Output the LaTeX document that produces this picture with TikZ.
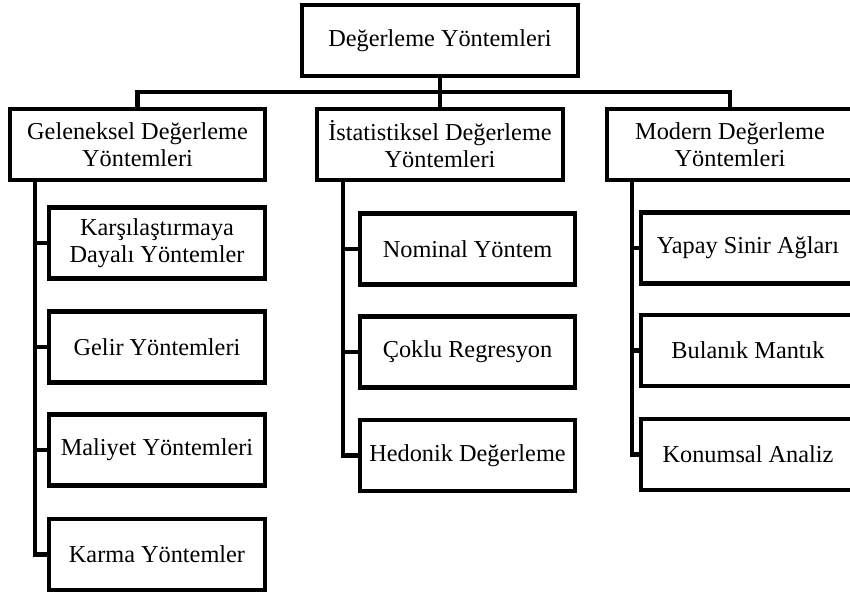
\documentclass[tikz,border=0pt]{standalone}
\usepackage{fontspec}
\setmainfont{Liberation Serif}
\begin{document}
\begin{tikzpicture}[x=1pt,y=1pt,
  box/.style={draw=black,line width=4.5pt,fill=white,align=center,inner sep=0pt,
    font=\fontsize{24.3}{27}\selectfont},
  conn/.style={line width=4.5pt,line join=miter}]
\useasboundingbox (0,0) rectangle (850,-593);
% top
\node[box,minimum width=276pt,minimum height=71pt] (top) at (440,-40.5) {Değerleme Yöntemleri};
% level 2
\node[box,minimum width=255pt,minimum height=71pt] (gel) at (137.5,-144.5) {Geleneksel Değerleme\\Yöntemleri};
\node[box,minimum width=246pt,minimum height=71pt] (ist) at (440,-144.5) {İstatistiksel Değerleme\\Yöntemleri};
\node[box,minimum width=246pt,minimum height=71pt] (mod) at (730,-144.5) {Modern Değerleme\\Yöntemleri};
% left children
\node[box,minimum width=216pt,minimum height=71pt] (g1) at (157,-243) {Karşılaştırmaya\\Dayalı Yöntemler};
\node[box,minimum width=216pt,minimum height=71pt] (g2) at (157,-347) {Gelir Yöntemleri};
\node[box,minimum width=216pt,minimum height=71pt] (g3) at (157,-450) {Maliyet Yöntemleri};
\node[box,minimum width=216pt,minimum height=71pt] (g4) at (157,-554.5) {Karma Yöntemler};
% middle children
\node[box,minimum width=215pt,minimum height=71pt] (i1) at (467.5,-249) {Nominal Yöntem};
\node[box,minimum width=215pt,minimum height=71pt] (i2) at (467.5,-352) {Çoklu Regresyon};
\node[box,minimum width=215pt,minimum height=71pt] (i3) at (467.5,-455.5) {Hedonik Değerleme};
% right children
\node[box,minimum width=214pt,minimum height=71pt] (m1) at (748,-248) {Yapay Sinir Ağları};
\node[box,minimum width=214pt,minimum height=71pt] (m2) at (748,-350.5) {Bulanık Mantık};
\node[box,minimum width=214pt,minimum height=71pt] (m3) at (748,-454.5) {Konumsal Analiz};
% coordinates
\coordinate (bar) at (440,-92);
\coordinate (gs) at (35,-180);
\coordinate (is) at (343,-180);
\coordinate (ms) at (632,-180);
% top connectors
\draw[conn] (top.south) -- (ist.north);
\draw[conn] (gel.north) |- (bar) -| (mod.north);
% spines
\draw[conn] (gs) |- (g1.west);
\draw[conn] (gs) |- (g2.west);
\draw[conn] (gs) |- (g3.west);
\draw[conn] (gs) |- (g4.west);
\draw[conn] (is) |- (i1.west);
\draw[conn] (is) |- (i2.west);
\draw[conn] (is) |- (i3.west);
\draw[conn] (ms) |- (m1.west);
\draw[conn] (ms) |- (m2.west);
\draw[conn] (ms) |- (m3.west);
\end{tikzpicture}
\end{document}
